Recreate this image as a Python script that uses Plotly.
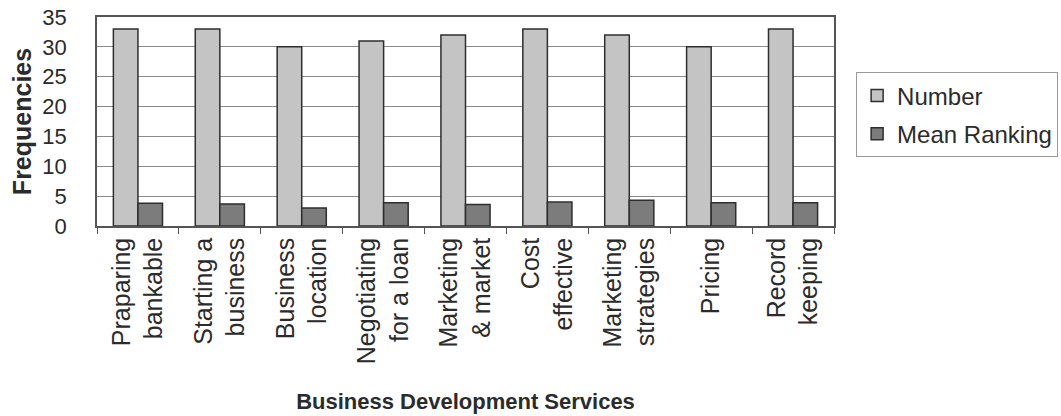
import plotly.graph_objects as go

categories = ["Praparing<br>bankable", "Starting a<br>business", "Business<br>location",
              "Negotiating<br>for a loan", "Marketing<br>& market", "Cost<br>effective",
              "Marketing<br>strategies", "Pricing", "Record<br>keeping"]
number = [33, 33, 30, 31, 32, 33, 32, 30, 33]
mean_ranking = [3.8, 3.7, 3.0, 3.9, 3.6, 4.0, 4.3, 3.9, 3.9]

FONT = "Liberation Sans, Arial, sans-serif"
TXT = "#2b2b2b"

fig = go.Figure()
fig.add_trace(go.Bar(x=categories, y=number, name="Number", legendgroup="a",
                     marker=dict(color="#c4c4c4", line=dict(color="#2e2e2e", width=1.5))))
fig.add_trace(go.Bar(x=categories, y=mean_ranking, name="Mean Ranking", legendgroup="b",
                     marker=dict(color="#7c7c7c", line=dict(color="#2e2e2e", width=1.5))))

fig.update_layout(
    width=1061, height=416,
    margin=dict(l=97, r=227, t=17, b=190, autoexpand=False),
    paper_bgcolor="white", plot_bgcolor="white",
    barmode="group", bargap=0.4, bargroupgap=0,
    font=dict(family=FONT, color=TXT, size=21),
    legend=dict(x=1.03, y=0.735, xanchor="left", yanchor="top",
                bordercolor="#9a9a9a", borderwidth=1, bgcolor="white",
                font=dict(size=24, color=TXT), tracegroupgap=4,
                itemwidth=30),
    showlegend=True,
)
fig.update_xaxes(
    showline=True, linecolor="#555", linewidth=1.5, mirror=True,
    ticks="outside", tickson="boundaries", ticklen=6, tickcolor="#555",
    tickangle=-90, tickfont=dict(size=25, color=TXT),
    title=dict(text="<b>Business Development Services</b>", font=dict(size=22, color=TXT), standoff=30),
)
fig.update_yaxes(
    range=[0, 35], dtick=5,
    showline=True, linecolor="#555", linewidth=1.5, mirror=True,
    showgrid=True, gridcolor="#8a8a8a", gridwidth=1,
    ticks="", ticklabelstandoff=24, tickfont=dict(size=22, color=TXT),
    title=dict(text="<b>Frequencies</b>", font=dict(size=25, color=TXT), standoff=4),
    zeroline=False,
)

fig.write_html("out.html")
